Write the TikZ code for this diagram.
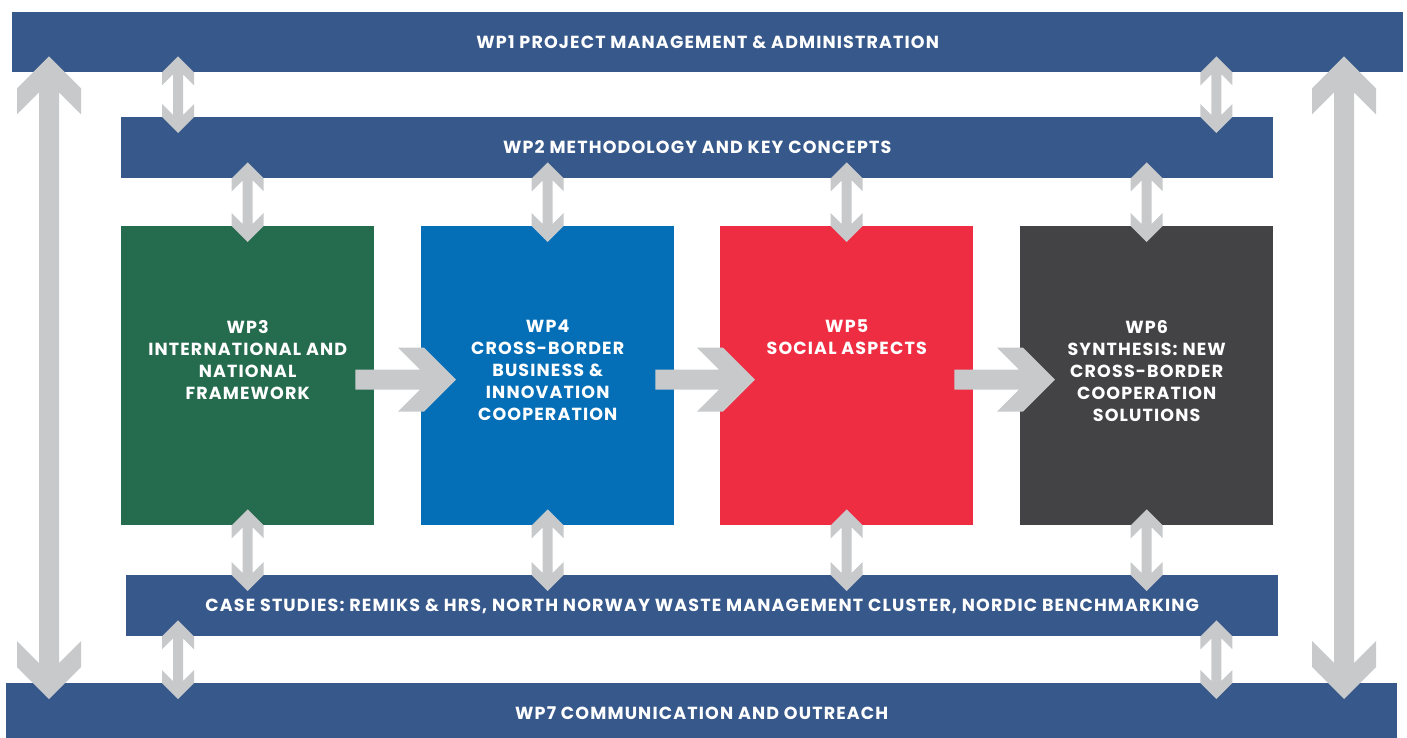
\documentclass[tikz,border=0pt]{standalone}
\usepackage{fontspec}
\setmainfont{Poppins}[LetterSpace=6.5]
\usetikzlibrary{calc,positioning}
\definecolor{wpbar}{HTML}{37588A}
\definecolor{wpgreen}{HTML}{256B4E}
\definecolor{wpblue}{HTML}{046EB7}
\definecolor{wpred}{HTML}{EE2D43}
\definecolor{wpdark}{HTML}{434244}
\definecolor{linkgray}{HTML}{C8C9CB}
\tikzstyle{wpfont}=[font=\bfseries\fontsize{17.5}{22}\selectfont, text=white]
\tikzstyle{bar}=[wpfont, fill=wpbar, text height=12pt, text depth=0pt, inner sep=0pt, anchor=north west]
\tikzstyle{wpbox}=[minimum width=253pt, minimum height=299pt, inner sep=0pt, anchor=north west]
\tikzstyle{boxtext}=[wpfont, align=center, inner sep=0pt]
\tikzstyle{link}=[fill=linkgray]
\newcommand{\vlink}[4]{%
	\fill[link] let \p1=#1, \p2=(#2.south), \p3=(#3.north), \n1={\y2-\y3+32pt-36pt*#4} in
		(\x1,\y2+16pt) -- ++(16*#4,-16*#4) -- ++(0,-13*#4) -- ++(-11*#4,11*#4) -- ++(0,-\n1)
		-- ++(11*#4,11*#4) -- ++(0,-13*#4) -- ++(-16*#4,-16*#4) -- ++(-16*#4,16*#4) -- ++(0,13*#4)
		-- ++(11*#4,-11*#4) -- ++(0,\n1) -- ++(-11*#4,-11*#4) -- ++(0,13*#4) -- cycle;}
\newcommand{\hlink}[2]{%
	\fill[link] let \p1=(#1.east), \p2=(#2.west), \p3=(#1.center), \n1={\x2-\x1+18pt} in
		(\x2+35pt,\y3-4pt) -- ++(-32,32) -- ++(-26,0) -- ++(22,-22) -- ++(-\n1,0) -- ++(0,-20)
		-- ++(\n1,0) -- ++(-22,-22) -- ++(26,0) -- cycle;}

\begin{document}
\begin{tikzpicture}[x=1pt,y=1pt]
	\useasboundingbox (0,0) rectangle (1407,-738);
	\node[bar, minimum width=1391pt, minimum height=60pt] (wp1) at (12,-12) {WP1 PROJECT MANAGEMENT \& ADMINISTRATION};
	\node[bar, minimum width=1152pt, minimum height=61pt] (wp2) at (121,-117) {WP2 METHODOLOGY AND KEY CONCEPTS};
	\node[wpbox, fill=wpgreen] (wp3) at (121,-226) {};
	\node[wpbox, fill=wpblue] (wp4) at (421,-226) {};
	\node[wpbox, fill=wpred] (wp5) at (720,-226) {};
	\node[wpbox, fill=wpdark] (wp6) at (1020,-226) {};
	\node[bar, minimum width=1152pt, minimum height=61pt] (cases) at (126,-575) {CASE STUDIES: REMIKS \& HRS, NORTH NORWAY WASTE MANAGEMENT CLUSTER, NORDIC BENCHMARKING};
	\node[bar, minimum width=1391pt, minimum height=61pt] (wp7) at (6,-683) {WP7 COMMUNICATION AND OUTREACH};

	\vlink{(49,0)}{wp1}{wp7}{2}
	\vlink{(1344,0)}{wp1}{wp7}{2}
	\vlink{($(wp2.west)+(57,0)$)}{wp1}{wp2}{1}
	\vlink{($(wp2.east)-(57,0)$)}{wp1}{wp2}{1}
	\vlink{($(wp2.west)+(57,0)$)}{cases}{wp7}{1}
	\vlink{($(wp2.east)-(57,0)$)}{cases}{wp7}{1}
	\foreach \b in {wp3,wp4,wp5,wp6}{
		\vlink{(\b)}{wp2}{\b}{1}
		\vlink{(\b)}{\b}{cases}{1}
	}
	\hlink{wp3}{wp4}
	\hlink{wp4}{wp5}
	\hlink{wp5}{wp6}

	\node[boxtext, below=94pt of wp3.north] (wp3text) {WP3\\INTERNATIONAL AND\\NATIONAL\\FRAMEWORK};
	\node[boxtext, below=94pt of wp4.north] (wp4text) {WP4\\CROSS-BORDER\\BUSINESS \&\\INNOVATION\\COOPERATION};
	\node[boxtext, below=94pt of wp5.north] (wp5text) {WP5\\SOCIAL ASPECTS};
	\node[boxtext, below=94pt of wp6.north] (wp6text) {WP6\\SYNTHESIS: NEW\\CROSS-BORDER\\COOPERATION\\SOLUTIONS};
\end{tikzpicture}
\end{document}
